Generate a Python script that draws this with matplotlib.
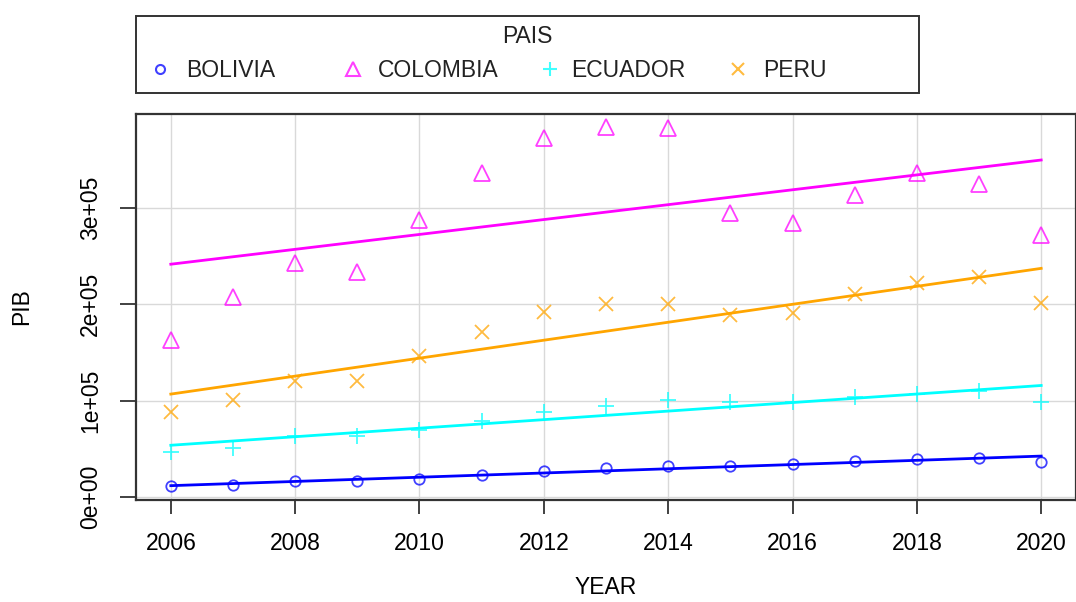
import numpy as np
import matplotlib
matplotlib.use('Agg')
import matplotlib.pyplot as plt
from matplotlib.lines import Line2D
from matplotlib.patches import Rectangle

plt.rcParams['font.family'] = ['Liberation Sans', 'DejaVu Sans']

years = [2006, 2007, 2008, 2009, 2010, 2011, 2012, 2013,
         2014, 2015, 2016, 2017, 2018, 2019, 2020]

bolivia = [11400, 12700, 16500, 16900, 19300, 23000, 26900, 30300,
           32400, 32400, 34000, 37200, 40000, 41000, 36500]
colombia = [163000, 207000, 243000, 233700, 287500, 336000, 372600, 383700,
            382000, 294000, 283700, 313000, 335400, 324400, 271700]
ecuador = [46900, 51000, 63000, 63000, 70000, 78600, 88000, 94400,
           101000, 99000, 98600, 103700, 107000, 110000, 98600]
peru = [88000, 101000, 120000, 120000, 146500, 171000, 191600, 200300,
        200000, 189000, 191000, 210600, 221600, 228500, 201000]

paises = ['BOLIVIA', 'COLOMBIA', 'ECUADOR', 'PERU']
series = [bolivia, colombia, ecuador, peru]
colores = ['#0000ff', '#ff00ff', '#00ffff', '#ffa500']
marcas = ['o', '^', '+', 'x']
tamanos = [7.5, 11, 12, 10]
tamanos_ley = [6.5, 10, 10, 8]

W, H = 1076, 602
fig = plt.figure(figsize=(W / 100, H / 100), dpi=100)
ax = fig.add_axes([136 / W, 1 - 500 / H, 940 / W, 386 / H])

fs = 16.5

x = np.array(years)
for nombre, vals, col, m, s in zip(paises, series, colores, marcas, tamanos):
    y = np.array(vals)
    if m in ('o', '^'):
        ax.plot(x, y, linestyle='none', marker=m, markersize=s,
                markerfacecolor='none', markeredgecolor=col,
                markeredgewidth=1.3, alpha=0.75)
    else:
        ax.plot(x, y, linestyle='none', marker=m, markersize=s,
                color=col, markeredgewidth=1.3, alpha=0.75)
    b, a = np.polyfit(x, y, 1)
    ax.plot(x, a + b * x, color=col, linewidth=2)

ax.set_xlim(2006 - 0.56, 2020 + 0.56)
ax.set_ylim(-2800, 397000)
ax.set_xticks(range(2006, 2021, 2))
ax.set_yticks([0, 100000, 200000, 300000])
ax.set_yticklabels(['0e+00', '1e+05', '2e+05', '3e+05'],
                   rotation=90, va='center', ha='center')
ax.tick_params(labelsize=fs, width=1.3, color='#333333')
ax.tick_params(axis='x', length=10, pad=13)
ax.tick_params(axis='y', length=11.5, pad=21)
ax.grid(True, color='#d9d9d9', linewidth=1)
ax.set_axisbelow(True)
for sp in ax.spines.values():
    sp.set_color('#333333')
    sp.set_linewidth(1.6)

ax.set_xlabel('YEAR', fontsize=fs, va='center')
ax.xaxis.set_label_coords(0.5, (500 - 588) / 386)
ax.set_ylabel('PIB', fontsize=fs, va='center')
ax.yaxis.set_label_coords((22 - 136) / 940, (500 - 307) / 386)

# caja de leyenda estilo R
def fx(px):
    return px / W

def fy(py):
    return 1 - py / H

fig.add_artist(Rectangle((fx(136), fy(93)), fx(919) - fx(136), fy(16) - fy(93),
                         transform=fig.transFigure, fill=False,
                         edgecolor='#333333', linewidth=1.4))
fig.text(fx(527), fy(43), 'PAIS', fontsize=fs, ha='center', va='baseline',
         color='#222222')
marca_x = [160, 353, 550, 738]
texto_x = [186, 378, 571, 763]
for nombre, col, m, s, mx, tx in zip(paises, colores, marcas, tamanos_ley,
                                     marca_x, texto_x):
    if m in ('o', '^'):
        fig.add_artist(Line2D([fx(mx)], [fy(69)], transform=fig.transFigure,
                              marker=m, markersize=s, markerfacecolor='none',
                              markeredgecolor=col, markeredgewidth=1.5,
                              alpha=0.75, linestyle='none'))
    else:
        fig.add_artist(Line2D([fx(mx)], [fy(69)], transform=fig.transFigure,
                              marker=m, markersize=s, color=col,
                              markeredgewidth=1.5, alpha=0.75, linestyle='none'))
    fig.text(fx(tx), fy(77), nombre, fontsize=fs, ha='left', va='baseline',
             color='#222222')

fig.savefig('out.png', dpi=100)
